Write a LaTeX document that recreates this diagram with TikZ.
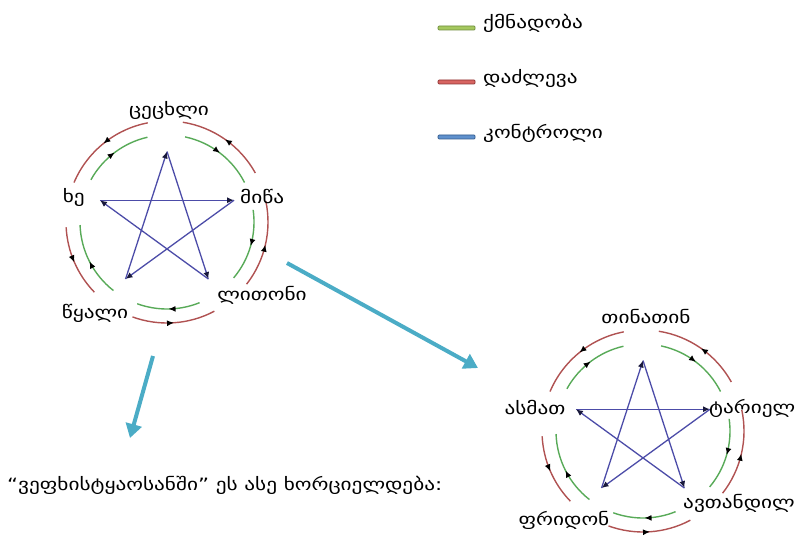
\documentclass[tikz,border=0pt]{standalone}
\usepackage{fontspec}
\setmainfont{DejaVu Sans}
\newfontfamily\geofont[FakeStretch=1.25]{DejaVu Sans}
\usetikzlibrary{arrows.meta,decorations.markings}

\definecolor{genGreen}{RGB}{88,170,88}
\definecolor{ovRed}{RGB}{176,82,82}
\definecolor{ctlBlue}{RGB}{76,76,168}
\definecolor{tipDark}{RGB}{25,25,60}
\definecolor{flowCyan}{RGB}{75,172,198}
\definecolor{lgGreen}{RGB}{165,200,95}
\definecolor{lgGreenD}{RGB}{110,140,60}
\definecolor{lgRed}{RGB}{215,100,97}
\definecolor{lgRedD}{RGB}{140,50,50}
\definecolor{lgBlue}{RGB}{95,145,205}
\definecolor{lgBlueD}{RGB}{50,90,140}

\tikzset{
  lbl/.style={inner sep=0pt, font=\geofont\fontsize{17}{19}\selectfont, text=black},
  ctl/.style={draw=ctlBlue, line width=1.3pt,
      -{Latex[length=7pt,width=6pt,color=tipDark]}},
  midarrow/.style={postaction={decorate}, decoration={markings,
      mark=at position 0.5 with {\arrow{Latex[length=7pt,width=6pt,color=black]}}}},
  gen/.style={draw=genGreen, line width=1.4pt, midarrow},
  ovc/.style={draw=ovRed, line width=1.4pt, midarrow},
  swatch/.style={minimum width=37pt, minimum height=4pt, inner sep=0pt,
      rounded corners=1pt, line width=0.7pt},
  flow/.style={draw=flowCyan, line width=4pt,
      -{Triangle[length=14pt,width=16pt]}},
  wheel/.pic={
    % star vertices
    \coordinate (-T) at (90:70.5);
    \coordinate (-R) at (18:70.5);
    \coordinate (-BR) at (-54:70.5);
    \coordinate (-BL) at (-126:70.5);
    \coordinate (-L) at (162:70.5);
    % control lines (pentagram)
    \draw[ctl] (-L) -- (-R);
    \draw[ctl] (-R) -- (-BL);
    \draw[ctl] (-BL) -- (-T);
    \draw[ctl] (-T) -- (-BR);
    \draw[ctl] (-BR) -- (-L);
    % generating cycle, clockwise
    \draw[gen] (151:87) arc[start angle=151, end angle=103, radius=87];
    \draw[gen] (78:87) arc[start angle=78, end angle=27, radius=87];
    \draw[gen] (8:87) arc[start angle=8, end angle=-40, radius=87];
    \draw[gen] (-68:87) arc[start angle=-68, end angle=-110, radius=87];
    \draw[gen] (232:87) arc[start angle=232, end angle=182, radius=87];
    % overcoming cycle, counter-clockwise
    \draw[ovc] (101:101) arc[start angle=101, end angle=157, radius=101];
    \draw[ovc] (29:101) arc[start angle=29, end angle=81, radius=101];
    \draw[ovc] (-38:101) arc[start angle=-38, end angle=12, radius=101];
    \draw[ovc] (-110:101) arc[start angle=-110, end angle=-62, radius=101];
    \draw[ovc] (183:101) arc[start angle=183, end angle=224, radius=101];
  }
}

\begin{document}
\begin{tikzpicture}[x=1pt,y=1pt]
\useasboundingbox (0,0) rectangle (805,550);

% legend
\node[swatch, fill=lgGreen, draw=lgGreenD] (swG) at (456.5,522) {};
\node[lbl, anchor=west] (legG) at (483,527) {ქმნადობა};
\node[swatch, fill=lgRed, draw=lgRedD] (swR) at (456.5,468) {};
\node[lbl, anchor=west] (legR) at (483,472) {დაძლევა};
\node[swatch, fill=lgBlue, draw=lgBlueD] (swB) at (456.5,413) {};
\node[lbl, anchor=west] (legB) at (483,417) {კონტროლი};

% five elements
\pic (w1) at (167,328) {wheel};
\node[lbl] (fire) at (169,440) {ცეცხლი};
\node[lbl, anchor=west] (earth) at (240,353) {მიწა};
\node[lbl] (metal) at (262,255) {ლითონი};
\node[lbl] (water) at (95,237) {წყალი};
\node[lbl, anchor=east] (wood) at (85,353) {ხე};

% five heroes
\pic (w2) at (643,119) {wheel};
\node[lbl] (tin) at (646,233) {თინათინ};
\node[lbl, anchor=west] (tar) at (709,142) {ტარიელ};
\node[lbl] (avt) at (739,47) {ავთანდილ};
\node[lbl] (fri) at (564,30) {ფრიდონ};
\node[lbl] (asm) at (535,142) {ასმათ};

% transitions
\coordinate (a1s) at (287,287);
\coordinate (a1e) at (478,182);
\draw[flow] (a1s) -- (a1e);
\coordinate (a2s) at (153,194);
\coordinate (a2e) at (130,112);
\draw[flow] (a2s) -- (a2e);

\node[lbl, anchor=west] (caption) at (7,65) {“ვეფხისტყაოსანში” ეს ასე ხორციელდება:};
\end{tikzpicture}
\end{document}
